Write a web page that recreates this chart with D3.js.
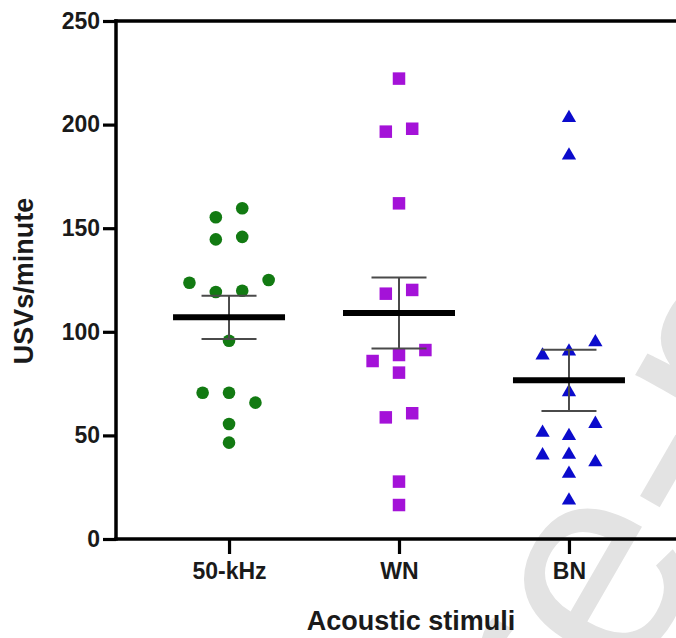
<!DOCTYPE html>
<html>
<head>
<meta charset="utf-8">
<script src="https://cdn.jsdelivr.net/npm/d3@7"></script>
<style>
  html, body { margin: 0; padding: 0; background: #fff; }
  svg { display: block; }
  text { font-family: "Liberation Sans", Arial, sans-serif; }
</style>
</head>
<body>
<svg id="chart" width="676" height="638"></svg>
<script>
// ---- data ----
const categories = ["50-kHz", "WN", "BN"];
const kHz50 = [155.3, 159.6, 144.6, 145.8, 123.7, 119.2, 119.8, 125.0, 95.7, 70.6, 70.6, 65.8, 55.5, 46.5];
const wn    = [222.2, 196.6, 198.0, 162.0, 118.4, 120.2, 85.9, 88.8, 91.2, 80.3, 58.7, 60.7, 27.7, 16.4];
const bn    = [204.2, 186.1, 89.6, 91.5, 96.0, 71.9, 52.3, 50.7, 56.6, 41.4, 41.7, 38.1, 32.5, 19.6];
const yTicks = [0, 50, 100, 150, 200, 250];
const yLabel = "USVs/minute";
const xLabel = "Acoustic stimuli";
const watermark = "Journal Pre-proof";

const groups = [
  { name: categories[0], values: kHz50, color: "#127a12", shape: "circle" },
  { name: categories[1], values: wn,    color: "#a412d8", shape: "square" },
  { name: categories[2], values: bn,    color: "#0b0bcc", shape: "triangle" }
];

const W = 676, H = 638;
const svg = d3.select("#chart");
svg.append("rect").attr("width", W).attr("height", H).attr("fill", "#fff");

// watermark (behind everything)
const wmFs = 290;
const wmG = svg.append("g");
const wmT = wmG.append("text")
  .attr("font-size", wmFs).attr("font-weight", 100)
  .attr("font-family", "Roboto, 'Open Sans', 'Liberation Sans', sans-serif")
  .attr("fill", "#e3e3e3")
  .text(watermark);
const eIdx = watermark.indexOf("re-") + 1;
const wn_ = wmT.node();
const before = wn_.getSubStringLength(0, eIdx);
const eW = wn_.getSubStringLength(eIdx, 1);
wmT.attr("x", -(before + eW / 2)).attr("y", 0.27 * wmFs);
wmG.attr("transform", "translate(602,582) rotate(-60)");

const x = d3.scalePoint().domain(categories).range([116, 682]).padding(0.665);
const y = d3.scaleLinear().domain([0, 250]).range([539, 21]);

// top frame line
svg.append("line")
  .attr("x1", x.range()[0] - 1.75).attr("x2", x.range()[1])
  .attr("y1", y(250)).attr("y2", y(250))
  .attr("stroke", "#000").attr("stroke-width", 3.5);

// axes
const yAxis = svg.append("g").attr("transform", `translate(${x.range()[0]},0)`)
  .call(d3.axisLeft(y).tickValues(yTicks).tickSize(13).tickPadding(3).tickSizeOuter(0));
const xAxis = svg.append("g").attr("transform", `translate(0,${y(0)})`)
  .call(d3.axisBottom(x).tickSize(15).tickPadding(9).tickSizeOuter(0));

[yAxis, xAxis].forEach(a => {
  a.select(".domain").attr("stroke", "#000").attr("stroke-width", 3.5);
  a.selectAll(".tick line").attr("stroke", "#000").attr("stroke-width", 3.2);
  a.selectAll(".tick text").attr("fill", "#1a1a1a").attr("font-size", 23)
    .attr("font-weight", "bold").attr("font-family", "'Liberation Sans', Arial, sans-serif");
});
yAxis.select(".domain").attr("d", `M0,${y(250) - 1.75}V${y(0) + 1.75}`);
xAxis.select(".domain").attr("d", `M${x.range()[0] - 1.75},0H${x.range()[1]}`);

// axis titles
svg.append("text")
  .attr("transform", `translate(33,${(y(250) + y(0)) / 2 + 1}) rotate(-90)`)
  .attr("text-anchor", "middle").attr("font-size", 27).attr("font-weight", "bold")
  .attr("fill", "#1a1a1a").text(yLabel);
svg.append("text")
  .attr("x", 411).attr("y", 630)
  .attr("text-anchor", "middle").attr("font-size", 27).attr("font-weight", "bold")
  .attr("fill", "#1a1a1a").text(xLabel);

// scatter layout: rows of nearby values, spread symmetrically
const rowTol = 14;     // px
const slot = 26.4;     // px between neighbours in a row
function layout(values) {
  const idx = values.map((v, i) => i).sort((a, b) => values[b] - values[a]);
  const off = new Array(values.length).fill(0);
  let row = [];
  const flush = () => {
    row.sort((a, b) => a - b);
    row.forEach((i, k) => { off[i] = (k - (row.length - 1) / 2) * slot; });
    row = [];
  };
  idx.forEach(i => {
    if (row.length && Math.abs(y(values[i]) - y(values[row[0]])) > rowTol) flush();
    row.push(i);
  });
  flush();
  return off;
}

const triType = {
  draw(ctx, size) {
    const s = Math.sqrt(size * 4 / Math.sqrt(3));
    const h = s * Math.sqrt(3) / 2;
    ctx.moveTo(0, -h / 2);
    ctx.lineTo(s / 2, h / 2);
    ctx.lineTo(-s / 2, h / 2);
    ctx.closePath();
  }
};
const shapes = {
  circle: d3.symbol(d3.symbolCircle, Math.PI * 6.3 * 6.3),
  square: d3.symbol(d3.symbolSquare, 12.5 * 12.5),
  triangle: d3.symbol(triType, 88)
};

groups.forEach(g => {
  const cx = x(g.name);
  const off = layout(g.values);
  svg.append("g").selectAll("path").data(g.values).join("path")
    .attr("d", shapes[g.shape])
    .attr("transform", (v, i) => `translate(${cx + off[i]},${y(v)})`)
    .attr("fill", g.color);

  const m = d3.mean(g.values);
  const sem = d3.deviation(g.values) / Math.sqrt(g.values.length);
  const eg = svg.append("g").attr("stroke", "#4a4a4a").attr("stroke-width", 2);
  eg.append("line").attr("x1", cx).attr("x2", cx).attr("y1", y(m - sem)).attr("y2", y(m + sem));
  [m - sem, m + sem].forEach(v =>
    eg.append("line").attr("x1", cx - 27.5).attr("x2", cx + 27.5).attr("y1", y(v)).attr("y2", y(v)));
  svg.append("line").attr("x1", cx - 56).attr("x2", cx + 56)
    .attr("y1", y(m)).attr("y2", y(m)).attr("stroke", "#000").attr("stroke-width", 6);
});
</script>
</body>
</html>
